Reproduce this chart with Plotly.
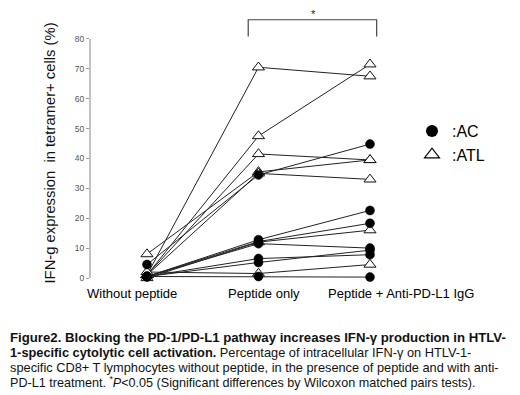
import plotly.graph_objects as go

# ---------------- data ----------------
categories = ["Without peptide", "Peptide only", "Peptide + Anti-PD-L1 IgG"]

ac_1 = [4.5, 34.5, 44.8]
ac_2 = [0.5, 12.8, 22.6]
ac_3 = [0.5, 12.2, 18.3]
ac_4 = [0.5, 11.5, 10.0]
ac_5 = [0.5, 6.5, 7.8]
ac_6 = [0.5, 5.2, 9.3]
ac_7 = [0.5, 0.5, 0.3]

atl_1 = [1.0, 70.5, 67.5]
atl_2 = [1.0, 47.5, 71.5]
atl_3 = [1.0, 41.5, 39.5]
atl_4 = [8.0, 35.5, 39.5]
atl_5 = [1.0, 35.0, 33.0]
atl_6 = [0.0, 12.0, 16.0]
atl_7 = [2.0, 1.5, 4.5]

y_ticks = [0, 10, 20, 30, 40, 50, 60, 70, 80]

ac_series = [ac_1, ac_2, ac_3, ac_4, ac_5, ac_6, ac_7]
atl_series = [atl_1, atl_2, atl_3, atl_4, atl_5, atl_6, atl_7]

# ---------------- layout geometry ----------------
# page body has an 8px margin: the figure starts at (8, 8) of the window
OFF = 8
W, H = 520 - OFF, 395 - OFF
ML, MR, MT, MB = 90 - OFF, 20, 9 - OFF, 117
PW, PH = W - ML - MR, H - MT - MB


def px_x(px):
    # window pixel -> paper x
    return (px - OFF - ML) / PW


def px_y(py):
    # window pixel -> paper y
    return (H - MB - (py - OFF)) / PH


FONT = "Arial, 'Liberation Sans', sans-serif"
LINE_COL = "#222222"

fig = go.Figure()

# connecting lines (one per subject)
for s in atl_series + ac_series:
    fig.add_trace(go.Scatter(x=categories, y=s, mode="lines",
                             line=dict(color=LINE_COL, width=1),
                             showlegend=False, hoverinfo="skip"))

# markers
atl_x = [c for s in atl_series for c in categories]
atl_y = [v for s in atl_series for v in s]
ac_x = [c for s in ac_series for c in categories]
ac_y = [v for s in ac_series for v in s]

fig.add_trace(go.Scatter(x=atl_x, y=atl_y, mode="markers", cliponaxis=False,
                         marker=dict(symbol="triangle-up", size=10.5, color="white",
                                     line=dict(color="#111111", width=1)),
                         showlegend=False))
fig.add_trace(go.Scatter(x=ac_x, y=ac_y, mode="markers", cliponaxis=False,
                         marker=dict(symbol="circle", size=9, color="black",
                                     line=dict(color="black", width=0.5)),
                         showlegend=False))

# legend entries
fig.add_trace(go.Scatter(x=[None], y=[None], mode="markers", name=":AC",
                         marker=dict(symbol="circle", size=12, color="black")))
fig.add_trace(go.Scatter(x=[None], y=[None], mode="markers", name=":ATL",
                         marker=dict(symbol="triangle-up", size=13, color="white",
                                     line=dict(color="black", width=1.2))))

# y axis line (0-80 only)
fig.add_shape(type="line", xref="paper", yref="y", x0=0, x1=0, y0=0, y1=80,
              line=dict(color="#9a9a9a", width=1.2))

# significance bracket
bx0, bx1, by0, by1 = 0.908, 2.06, 80.8, 86.4
fig.add_shape(type="path", xref="x", yref="y",
              path=f"M{bx0},{by0} L{bx0},{by1} L{bx1},{by1} L{bx1},{by0}",
              line=dict(color="#444444", width=1.2))
fig.add_annotation(x=1.489, y=88.3, xref="x", yref="y", text="*", showarrow=False,
                   font=dict(family=FONT, size=11, color="#222"), yanchor="middle")

# category labels
for lab, cx in zip(categories, [132, 264, 401]):
    fig.add_annotation(x=px_x(cx), y=px_y(293), xref="paper", yref="paper",
                       text=lab, showarrow=False, xanchor="center", yanchor="middle",
                       font=dict(family=FONT, size=13, color="black"))

# y title
fig.add_annotation(x=px_x(49), y=px_y(153.5), xref="paper", yref="paper",
                   text="IFN-g expression\u00a0 in tetramer+ cells (%)", textangle=-90,
                   showarrow=False, xanchor="center", yanchor="middle",
                   font=dict(family=FONT, size=14.8, color="#111"))

# caption
caption = [
    "<b>Figure2. Blocking the PD-1/PD-L1 pathway increases IFN-γ production in HTLV-</b>",
    "<b>1-specific cytolytic cell activation.</b> Percentage of intracellular IFN-γ on HTLV-1-",
    "specific CD8+ T lymphocytes without peptide, in the presence of peptide and with anti-",
    "PD-L1 treatment. <sup>*</sup><i>P</i>&lt;0.05 (Significant differences by Wilcoxon matched pairs tests).",
]
caption_sizes = [13.2, 12.8, 12.8, 12.6]
for i, (line, fs) in enumerate(zip(caption, caption_sizes)):
    fig.add_annotation(x=px_x(8), y=px_y(337 + 15 * i), xref="paper", yref="paper",
                       text=line, showarrow=False, xanchor="left", yanchor="middle",
                       font=dict(family=FONT, size=fs, color="#111"))

fig.update_xaxes(type="category", categoryorder="array", categoryarray=categories,
                 range=[-0.511, 3.166], showticklabels=False, showline=False,
                 showgrid=False, zeroline=False, ticks="")
fig.update_yaxes(range=[0, 90], tickvals=y_ticks, ticktext=[str(v) for v in y_ticks],
                 showline=False, showgrid=False, zeroline=False,
                 ticks="outside", ticklen=3, tickcolor="#9a9a9a", tickwidth=1,
                 tickfont=dict(family=FONT, size=8.5, color="#555"))

fig.update_layout(
    width=W, height=H, margin=dict(l=ML, r=MR, t=MT, b=MB, autoexpand=False),
    paper_bgcolor="white", plot_bgcolor="white",
    legend=dict(x=px_x(412), y=px_y(114), xanchor="left", yanchor="top",
                font=dict(family=FONT, size=16, color="black"),
                bgcolor="rgba(0,0,0,0)", borderwidth=0, itemsizing="trace",
                tracegroupgap=0),
    showlegend=True,
)

fig.write_html("out.html")
